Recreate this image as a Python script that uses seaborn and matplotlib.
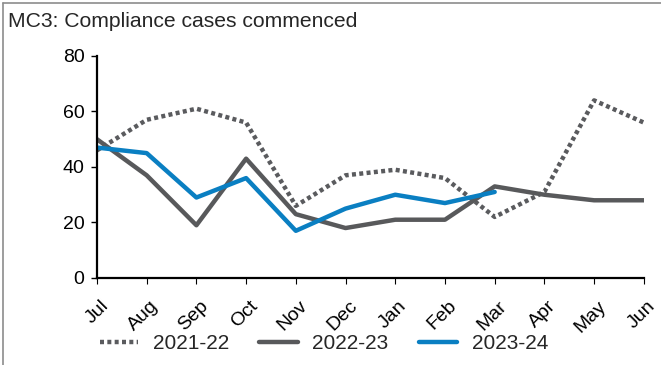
import matplotlib
matplotlib.use("Agg")
import matplotlib.pyplot as plt
import matplotlib.lines as mlines
import matplotlib.transforms as mtransforms
import seaborn as sns
import pandas as pd

months = ["Jul", "Aug", "Sep", "Oct", "Nov", "Dec", "Jan", "Feb", "Mar", "Apr", "May", "Jun"]
fy2021_22 = [46, 57, 61, 56, 26, 37, 39, 36, 22, 31, 64, 56]
fy2022_23 = [50, 37, 19, 43, 23, 18, 21, 21, 33, 30, 28, 28]
fy2023_24 = [47, 45, 29, 36, 17, 25, 30, 27, 31]

series_names = ["2021-22", "2022-23", "2023-24"]
series_vals = [fy2021_22, fy2022_23, fy2023_24]
colors = {"2021-22": "#5a5b5e", "2022-23": "#58595b", "2023-24": "#0a7fc2"}
dotted = (0, (0.9, 0.75))

rows = []
for name, vals in zip(series_names, series_vals):
    for i, v in enumerate(vals):
        rows.append({"month": months[i], "pos": i, "value": v, "year": name})
df = pd.DataFrame(rows)

sns.set_theme(style="white")
plt.rcParams["font.family"] = ["Liberation Sans", "DejaVu Sans"]

fig = plt.figure(figsize=(6.61, 3.65), dpi=100)
ax = fig.add_axes([0.1467, 0.2384, 0.974 - 0.1467, 0.8466 - 0.2384])

for name in series_names:
    sub = df[df["year"] == name]
    sns.lineplot(data=sub, x="pos", y="value", ax=ax, color=colors[name],
                 linewidth=3.2, legend=False)
    if name == "2021-22":
        ax.lines[-1].set_linestyle(dotted)
        ax.lines[-1].set_dash_capstyle("butt")

ax.set_xlim(0, 11)
ax.set_ylim(0, 80)
ax.set_yticks([0, 20, 40, 60, 80])
ax.set_xticks(range(len(months)))
ax.set_xticklabels(months, rotation=45, ha="right", va="top", rotation_mode="anchor",
                   fontsize=14)
ax.tick_params(axis="y", labelsize=14, length=4, width=1, direction="out", left=True, pad=5,
               labelcolor="black", color="black")
ax.tick_params(axis="x", length=4, width=0.8, direction="out", bottom=True, pad=10,
               labelcolor="black", color="black")
# nudge the rotated month labels slightly to the right of their ticks
shift = mtransforms.ScaledTranslation(3 / 100, 0, fig.dpi_scale_trans)
for lab in ax.get_xticklabels():
    lab.set_transform(lab.get_transform() + shift)
ax.set_xlabel("")
ax.set_ylabel("")
for s in ["top", "right"]:
    ax.spines[s].set_visible(False)
for s in ["left", "bottom"]:
    ax.spines[s].set_color("black")
    ax.spines[s].set_linewidth(1.6)

fig.text(0.012, 0.94, "MC3: Compliance cases commenced", fontsize=15.2, ha="left", va="center")

handles = [
    mlines.Line2D([], [], color=colors["2021-22"], linewidth=3.2, linestyle=dotted),
    mlines.Line2D([], [], color=colors["2022-23"], linewidth=3.2),
    mlines.Line2D([], [], color=colors["2023-24"], linewidth=3.2),
]
fig.legend(handles, series_names, loc="center", bbox_to_anchor=(0.49, 0.058), ncol=3,
           frameon=False, fontsize=15, handlelength=1.85, columnspacing=1.45,
           handletextpad=0.7, borderpad=0.2)

# outer frame on the top and left edges
fig.add_artist(mlines.Line2D([0.004, 0.004], [0.0, 0.992], transform=fig.transFigure,
                             color="#8c8c8c", linewidth=1.2))
fig.add_artist(mlines.Line2D([0.004, 1.0], [0.992, 0.992], transform=fig.transFigure,
                             color="#8c8c8c", linewidth=1.2))

fig.savefig("out.png", dpi=100)
